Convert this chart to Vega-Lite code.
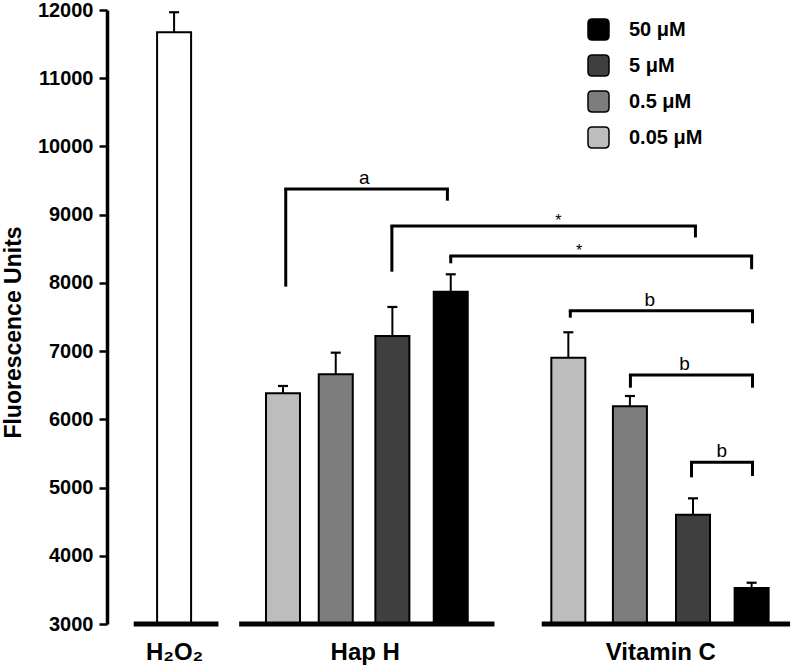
{
  "$schema": "https://vega.github.io/schema/vega-lite/v6.json",
  "width": 693,
  "height": 614,
  "autosize": {"type": "none"},
  "padding": {"left": 107, "top": 10, "right": 0, "bottom": 45},
  "background": "white",
  "config": {
    "font": "Liberation Sans",
    "view": {"stroke": null},
    "axis": {"grid": false}
  },
  "datasets": {
    "bars": [
      {"group": "H2O2", "conc": "none", "pos": 0, "value": 11673, "err": 11967},
      {"group": "Hap H", "conc": "0.05 μM", "pos": 1.973, "value": 6382, "err": 6489},
      {"group": "Hap H", "conc": "0.5 μM", "pos": 2.929, "value": 6660, "err": 6977},
      {"group": "Hap H", "conc": "5 μM", "pos": 3.955, "value": 7222, "err": 7647},
      {"group": "Hap H", "conc": "50 μM", "pos": 5.0125, "value": 7871, "err": 8126},
      {"group": "Vitamin C", "conc": "0.05 μM", "pos": 7.143, "value": 6904, "err": 7276},
      {"group": "Vitamin C", "conc": "0.5 μM", "pos": 8.259, "value": 6191, "err": 6342},
      {"group": "Vitamin C", "conc": "5 μM", "pos": 9.402, "value": 4602, "err": 4842},
      {"group": "Vitamin C", "conc": "50 μM", "pos": 10.464, "value": 3528, "err": 3605}
    ],
    "groups": [
      {"group": "H2O2", "start": -0.732, "end": 0.804},
      {"group": "Hap H", "start": 1.179, "end": 5.804},
      {"group": "Vitamin C", "start": 6.661, "end": 11.161}
    ],
    "brackets": [
      {"label": "a", "kind": "letter", "x1": 2.023, "x2": 4.952, "top": 9376, "yl": 7945, "yr": 9205, "lx": 3.446},
      {"label": "*", "kind": "star", "x1": 3.946, "x2": 9.446, "top": 8834, "yl": 8164, "yr": 8666, "lx": 6.964},
      {"label": "*", "kind": "star", "x1": 5.0125, "x2": 10.464, "top": 8394, "yl": 8287, "yr": 8200, "lx": 7.339},
      {"label": "b", "kind": "letter", "x1": 7.179, "x2": 10.48, "top": 7593, "yl": 7490, "yr": 7408, "lx": 8.62},
      {"label": "b", "kind": "letter", "x1": 8.268, "x2": 10.48, "top": 6650, "yl": 6464, "yr": 6464, "lx": 9.25},
      {"label": "b", "kind": "letter", "x1": 9.375, "x2": 10.48, "top": 5370, "yl": 5150, "yr": 5169, "lx": 9.923}
    ]
  },
  "layer": [
    {
      "data": {"name": "bars"},
      "mark": {"type": "bar", "size": 34, "stroke": "black", "strokeWidth": 2},
      "encoding": {
        "x": {
          "field": "pos", "type": "quantitative", "title": null,
          "scale": {"domain": [-1.125, 11.25], "nice": false, "zero": false},
          "axis": {
            "orient": "bottom",
            "values": [0, 3.455, 8.81],
            "labelExpr": "datum.value < 1 ? 'H₂O₂' : (datum.value < 6 ? 'Hap H' : 'Vitamin C')",
            "domain": false, "ticks": false, "grid": false,
            "labelFontSize": 24, "labelFontWeight": "bold", "labelColor": "black",
            "labelPadding": 16, "labelOverlap": false, "labelFlush": false, "labelBound": false
          }
        },
        "y": {
          "field": "value", "type": "quantitative", "title": "Fluorescence Units",
          "scale": {"domain": [3000, 12000], "nice": false, "zero": false},
          "axis": {
            "values": [3000, 3500, 4000, 4500, 5000, 5500, 6000, 6500, 7000, 7500, 8000, 8500, 9000, 9500, 10000, 10500, 11000, 11500, 12000],
            "labelExpr": "datum.value % 1000 === 0 ? datum.value : ''",
            "tickSize": {"condition": {"test": "datum.value % 1000 === 0", "value": 8}, "value": 4},
            "tickWidth": 2.5, "tickColor": "black",
            "domainWidth": 3.5, "domainColor": "black",
            "labelFontSize": 20, "labelFontWeight": "bold", "labelColor": "black",
            "labelPadding": 6, "labelOverlap": false, "labelFlush": false,
            "titleFontSize": 23, "titleFontWeight": "bold", "titleColor": "black",
            "titleX": -87, "titleY": 322, "titleAngle": -90, "titleAlign": "center", "titleBaseline": "alphabetic"
          }
        },
        "y2": {"datum": 3000},
        "fill": {
          "field": "conc", "type": "nominal",
          "scale": {
            "domain": ["50 μM", "5 μM", "0.5 μM", "0.05 μM", "none"],
            "range": ["#000000", "#3f3f3f", "#7d7d7d", "#bdbdbd", "#ffffff"]
          },
          "legend": {
            "values": ["50 μM", "5 μM", "0.5 μM", "0.05 μM"],
            "title": null,
            "orient": "none",
            "legendX": 480,
            "legendY": 8,
            "padding": 0,
            "symbolType": "M -0.6 -1 L 0.6 -1 Q 1 -1 1 -0.6 L 1 0.6 Q 1 1 0.6 1 L -0.6 1 Q -1 1 -1 0.6 L -1 -0.6 Q -1 -1 -0.6 -1 Z",
            "symbolSize": 441,
            "symbolStrokeColor": "black",
            "symbolStrokeWidth": 1.5,
            "labelFontSize": 20, "labelFontWeight": "bold", "labelColor": "black",
            "labelOffset": 19,
            "rowPadding": 9
          }
        }
      }
    },
    {
      "data": {"name": "bars"},
      "mark": {"type": "rule", "stroke": "black", "strokeWidth": 2},
      "encoding": {
        "x": {"field": "pos", "type": "quantitative", "title": null, "scale": {"domain": [-1.125, 11.25], "nice": false, "zero": false}},
        "y": {"field": "value", "type": "quantitative", "title": "Fluorescence Units", "scale": {"domain": [3000, 12000], "nice": false, "zero": false}},
        "y2": {"field": "err"}
      }
    },
    {
      "data": {"name": "bars"},
      "mark": {"type": "tick", "orient": "horizontal", "size": 10, "thickness": 2.2, "color": "black", "opacity": 1},
      "encoding": {
        "x": {"field": "pos", "type": "quantitative", "title": null, "scale": {"domain": [-1.125, 11.25], "nice": false, "zero": false}},
        "y": {"field": "err", "type": "quantitative", "title": "Fluorescence Units", "scale": {"domain": [3000, 12000], "nice": false, "zero": false}}
      }
    },
    {
      "data": {"name": "groups"},
      "mark": {"type": "rule", "stroke": "black", "strokeWidth": 5},
      "encoding": {
        "x": {"field": "start", "type": "quantitative", "title": null, "scale": {"domain": [-1.125, 11.25], "nice": false, "zero": false}},
        "x2": {"field": "end"},
        "y": {"datum": 3000, "type": "quantitative", "title": "Fluorescence Units", "scale": {"domain": [3000, 12000], "nice": false, "zero": false}}
      }
    },
    {
      "data": {"name": "brackets"},
      "mark": {"type": "rule", "stroke": "black", "strokeWidth": 3, "strokeCap": "square"},
      "encoding": {
        "x": {"field": "x1", "type": "quantitative", "title": null, "scale": {"domain": [-1.125, 11.25], "nice": false, "zero": false}},
        "x2": {"field": "x2"},
        "y": {"field": "top", "type": "quantitative", "title": "Fluorescence Units", "scale": {"domain": [3000, 12000], "nice": false, "zero": false}}
      }
    },
    {
      "data": {"name": "brackets"},
      "mark": {"type": "rule", "stroke": "black", "strokeWidth": 3},
      "encoding": {
        "x": {"field": "x1", "type": "quantitative", "title": null, "scale": {"domain": [-1.125, 11.25], "nice": false, "zero": false}},
        "y": {"field": "yl", "type": "quantitative", "title": "Fluorescence Units", "scale": {"domain": [3000, 12000], "nice": false, "zero": false}},
        "y2": {"field": "top"}
      }
    },
    {
      "data": {"name": "brackets"},
      "mark": {"type": "rule", "stroke": "black", "strokeWidth": 3},
      "encoding": {
        "x": {"field": "x2", "type": "quantitative", "title": null, "scale": {"domain": [-1.125, 11.25], "nice": false, "zero": false}},
        "y": {"field": "yr", "type": "quantitative", "title": "Fluorescence Units", "scale": {"domain": [3000, 12000], "nice": false, "zero": false}},
        "y2": {"field": "top"}
      }
    },
    {
      "data": {"name": "brackets"},
      "transform": [{"filter": "datum.kind === 'letter'"}],
      "mark": {"type": "text", "fontSize": 19, "color": "black", "baseline": "alphabetic", "align": "center", "dy": -5},
      "encoding": {
        "x": {"field": "lx", "type": "quantitative", "title": null, "scale": {"domain": [-1.125, 11.25], "nice": false, "zero": false}},
        "y": {"field": "top", "type": "quantitative", "title": "Fluorescence Units", "scale": {"domain": [3000, 12000], "nice": false, "zero": false}},
        "text": {"field": "label"}
      }
    },
    {
      "data": {"name": "brackets"},
      "transform": [{"filter": "datum.kind === 'star'"}],
      "mark": {"type": "text", "fontSize": 16, "color": "black", "baseline": "alphabetic", "align": "center", "dy": 0},
      "encoding": {
        "x": {"field": "lx", "type": "quantitative", "title": null, "scale": {"domain": [-1.125, 11.25], "nice": false, "zero": false}},
        "y": {"field": "top", "type": "quantitative", "title": "Fluorescence Units", "scale": {"domain": [3000, 12000], "nice": false, "zero": false}},
        "text": {"field": "label"}
      }
    }
  ]
}
